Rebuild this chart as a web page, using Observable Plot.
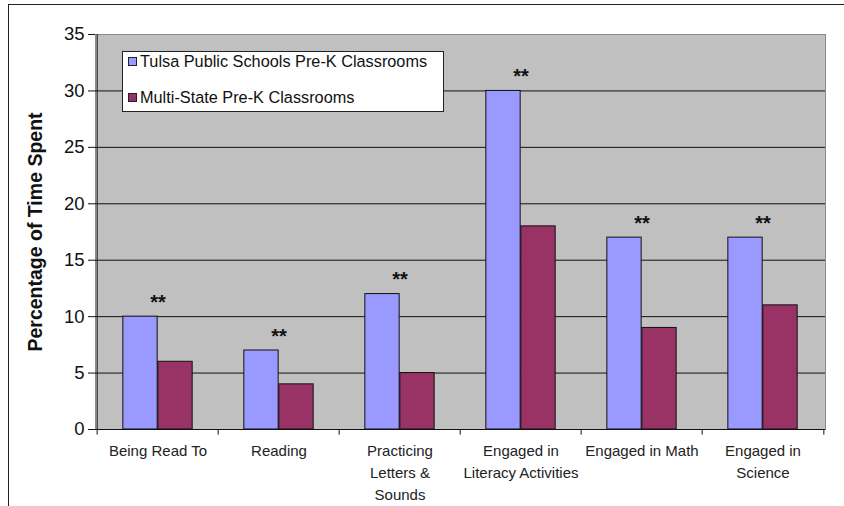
<!DOCTYPE html>
<html>
<head>
<meta charset="utf-8">
<script src="https://cdn.jsdelivr.net/npm/d3@7"></script>
<script src="https://cdn.jsdelivr.net/npm/@observablehq/plot@0.6"></script>
<style>
  html, body { margin: 0; padding: 0; background: #fff; }
  #wrap { position: relative; width: 844px; height: 506px; overflow: hidden; font-family: Arial, "Liberation Sans", sans-serif; }
  #border { position: absolute; left: 8px; top: 4px; width: 900px; height: 600px; border: 1.5px solid #222; box-sizing: border-box; }
  #legend { position: absolute; left: 122px; top: 51px; width: 322px; height: 61px; background: #fff; border: 1px solid #222; box-sizing: border-box; font-size: 16.3px; color: #111; }
  .item { position: absolute; left: 5px; display: flex; align-items: center; gap: 3px; white-space: nowrap; }
  .sw { width: 9px; height: 9px; border: 1px solid #222; box-sizing: border-box; }
  svg { position: absolute; left: 0; top: 0; }
</style>
</head>
<body>
<div id="wrap">
  <div id="border"></div>
</div>
<script>
const categories = ["Being Read To", "Reading", "Practicing\nLetters &\nSounds", "Engaged in\nLiteracy Activities", "Engaged in Math", "Engaged in\nScience"];
const tulsa = [10, 7, 12, 30, 17, 17];
const multiState = [6, 4, 5, 18, 9, 11];
const seriesNames = ["Tulsa Public Schools Pre-K Classrooms", "Multi-State Pre-K Classrooms"];
const seriesColors = ["#9999FF", "#993366"];
const yTicks = [0, 5, 10, 15, 20, 25, 30, 35];
const gridTicks = [5, 10, 15, 20, 25, 30];

const rowsT = categories.map((c, i) => ({cat: c, value: tulsa[i]}));
const rowsM = categories.map((c, i) => ({cat: c, value: multiState[i]}));

const W = 844, H = 506;
const mL = 95, mR = 19, mT = 34, mB = 77;
const bw = (W - mL - mR) / categories.length;
const barW = 35;
const side = (bw - 2 * barW) / 2;

const chart = Plot.plot({
  width: W,
  height: H,
  marginLeft: mL,
  marginRight: mR,
  marginTop: mT,
  marginBottom: mB,
  style: {fontFamily: "Arial, 'Liberation Sans', sans-serif", background: "transparent", color: "#111"},
  x: {domain: categories, padding: 0, label: null},
  y: {domain: [0, 35], label: null},
  marks: [
    Plot.frame({fill: "#C0C0C0", stroke: "#8a8a8a"}),
    Plot.ruleY(gridTicks, {stroke: "#111", strokeWidth: 1}),
    Plot.barY(rowsT, {x: "cat", y: "value", fill: seriesColors[0], stroke: "#111", strokeWidth: 1, insetLeft: side, insetRight: side + barW}),
    Plot.barY(rowsM, {x: "cat", y: "value", fill: seriesColors[1], stroke: "#111", strokeWidth: 1, insetLeft: side + barW, insetRight: side}),
    Plot.text(rowsT, {x: "cat", y: "value", text: () => "**", dy: -14, fontSize: 20, fontWeight: "bold", fill: "#111"}),
    Plot.ruleY([0], {stroke: "#111", strokeWidth: 1.2}),
    Plot.ruleX([0], {x: () => categories[0], dx: -bw / 2, y1: 0, y2: 35, stroke: "#111"}),
    Plot.ruleX(categories, {x: d => d, dx: -bw / 2, y1: 0, y2: -0.5, stroke: "#111"}),
    Plot.ruleX([0], {x: () => categories[categories.length - 1], dx: bw / 2, y1: 0, y2: -0.5, stroke: "#111"}),
    Plot.axisY(yTicks, {tickSize: 7, tickPadding: 4, fontSize: 18.5, stroke: "#111", label: null, fill: "#111"}),
    Plot.axisX({tickSize: 0, tickPadding: 11, fontSize: 15, lineHeight: 1.47, label: null, fill: "#222"}),
    Plot.text(["Percentage of Time Spent"], {frameAnchor: "left", textAnchor: "middle", dx: -60, rotate: -90, fontSize: 19.5, fontWeight: "bold", fill: "#111"})
  ]
});

const wrap = document.getElementById("wrap");
wrap.insertBefore(chart, document.getElementById("border"));

const legend = document.createElement("div");
legend.id = "legend";
seriesNames.forEach((name, i) => {
  const it = document.createElement("div");
  it.className = "item";
  it.style.top = (i === 0 ? 0 : 36) + "px";
  const sw = document.createElement("span");
  sw.className = "sw";
  sw.style.background = seriesColors[i];
  const tx = document.createElement("span");
  tx.textContent = name;
  it.appendChild(sw);
  it.appendChild(tx);
  legend.appendChild(it);
});
wrap.appendChild(legend);
</script>
</body>
</html>
